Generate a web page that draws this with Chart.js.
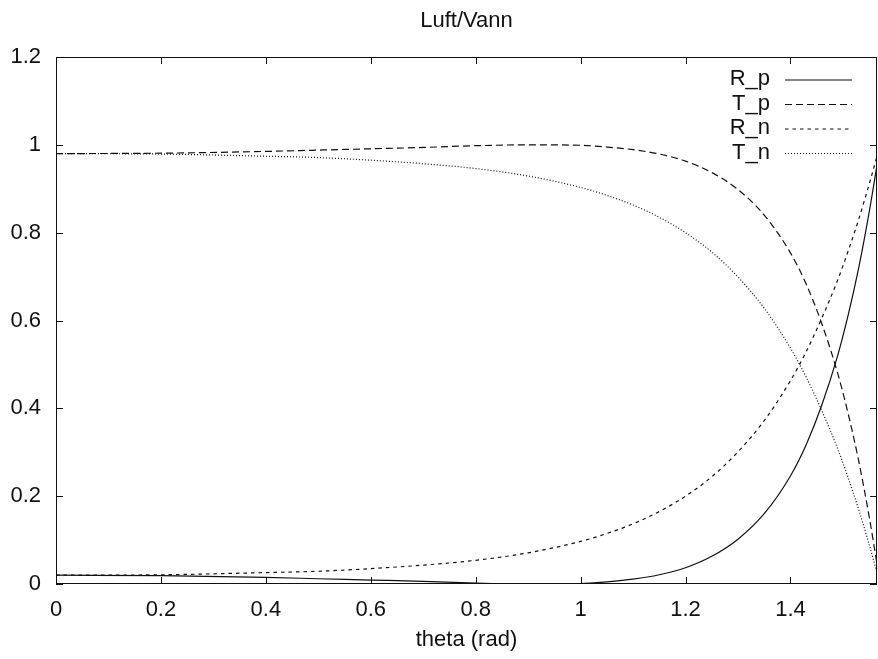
<!DOCTYPE html>
<html>
<head>
<meta charset="utf-8">
<script src="https://cdn.jsdelivr.net/npm/chart.js@4/dist/chart.umd.min.js"></script>
<style>
  html, body { margin: 0; padding: 0; background: #fff; }
  #wrap { width: 878px; height: 659px; }
</style>
</head>
<body>
<div id="wrap"><canvas id="grafico" width="878" height="659"></canvas></div>
<script>
const theta = [0, 0.2, 0.4, 0.5, 0.6, 0.7, 0.8, 0.9, 1.0, 1.05, 1.1, 1.15, 1.2, 1.25, 1.3, 1.35, 1.4, 1.43, 1.46, 1.49, 1.51, 1.53, 1.55, 1.565];
const R_p = [0.020, 0.019, 0.015, 0.012, 0.009, 0.006, 0.002, 0.000, 0.001, 0.005, 0.011, 0.021, 0.037, 0.063, 0.102, 0.160, 0.246, 0.317, 0.408, 0.520, 0.612, 0.719, 0.846, 0.954];
const T_p = [0.980, 0.981, 0.985, 0.988, 0.991, 0.994, 0.998, 1.000, 0.999, 0.995, 0.989, 0.979, 0.963, 0.937, 0.898, 0.840, 0.754, 0.683, 0.592, 0.480, 0.388, 0.281, 0.154, 0.046];
const R_n = [0.020, 0.021, 0.026, 0.029, 0.035, 0.043, 0.054, 0.071, 0.097, 0.115, 0.137, 0.165, 0.200, 0.244, 0.301, 0.372, 0.463, 0.529, 0.606, 0.692, 0.758, 0.830, 0.910, 0.974];
const T_n = [0.980, 0.979, 0.974, 0.971, 0.965, 0.957, 0.946, 0.929, 0.903, 0.885, 0.863, 0.835, 0.800, 0.756, 0.699, 0.628, 0.537, 0.471, 0.394, 0.308, 0.242, 0.170, 0.090, 0.026];

const xTicks = [0, 0.2, 0.4, 0.6, 0.8, 1, 1.2, 1.4];
const xTickLabels = ['0', '0.2', '0.4', '0.6', '0.8', '1', '1.2', '1.4'];
const yTicks = [0, 0.2, 0.4, 0.6, 0.8, 1, 1.2];
const yTickLabels = ['0', '0.2', '0.4', '0.6', '0.8', '1', '1.2'];

const FONT = 'Liberation Sans, Arial, sans-serif';
const INK = '#111';

function series(label, values, dash) {
    return {
        label: label,
        data: theta.map((t, i) => ({ x: t, y: values[i] })),
        borderColor: INK,
        borderWidth: 1.2,
        borderDash: dash,
        pointRadius: 0,
        fill: false,
        cubicInterpolationMode: 'monotone'
    };
}

// gnuplot style frame: box, inward ticks on all sides, legend top right, title
const frame = {
    id: 'frame',
    afterDatasetsDraw(chart) {
        const { ctx, chartArea: a, scales: { x, y } } = chart;
        ctx.save();
        ctx.strokeStyle = INK;
        ctx.lineWidth = 1;
        ctx.setLineDash([]);
        ctx.strokeRect(a.left + 0.5, a.top + 0.5, a.width - 1, a.height - 1);
        ctx.beginPath();
        x.ticks.forEach(t => {
            const px = Math.round(x.getPixelForValue(t.value)) + 0.5;
            ctx.moveTo(px, a.bottom); ctx.lineTo(px, a.bottom - 7);
            ctx.moveTo(px, a.top); ctx.lineTo(px, a.top + 7);
        });
        y.ticks.forEach(t => {
            const py = Math.round(y.getPixelForValue(t.value)) + 0.5;
            ctx.moveTo(a.left, py); ctx.lineTo(a.left + 7, py);
            ctx.moveTo(a.right, py); ctx.lineTo(a.right - 7, py);
        });
        ctx.stroke();

        ctx.font = '22px ' + FONT;
        ctx.fillStyle = INK;
        ctx.textBaseline = 'middle';
        chart.data.datasets.forEach((ds, i) => {
            const ly = 79 + i * 24.5;
            ctx.textAlign = 'right';
            ctx.fillText(ds.label, 770, ly);
            ctx.setLineDash(ds.borderDash || []);
            ctx.lineWidth = ds.borderWidth;
            ctx.beginPath();
            ctx.moveTo(785, ly + 1);
            ctx.lineTo(852, ly + 1);
            ctx.stroke();
        });

        ctx.textAlign = 'center';
        ctx.fillText('Luft/Vann', (a.left + a.right) / 2, 21);
        ctx.restore();
    }
};

new Chart(document.getElementById('grafico'), {
    type: 'line',
    data: {
        datasets: [
            series('R_p', R_p, []),
            series('T_p', T_p, [7, 4]),
            series('R_n', R_n, [3.5, 4]),
            series('T_n', T_n, [1, 2])
        ]
    },
    options: {
        responsive: false,
        animation: false,
        layout: { padding: { top: 57, right: 1, left: 0, bottom: 0 } },
        plugins: { legend: { display: false }, tooltip: { enabled: false }, title: { display: false } },
        scales: {
            x: {
                type: 'linear',
                min: 0,
                max: 1.565,
                afterBuildTicks: s => { s.ticks = xTicks.map(v => ({ value: v })); },
                afterFit: s => { s.height = 75; },
                grid: { display: false, drawTicks: false },
                border: { display: false },
                ticks: {
                    padding: 13,
                    color: INK,
                    font: { family: FONT, size: 22 },
                    maxRotation: 0,
                    callback: (v, i) => xTickLabels[i]
                },
                title: {
                    display: true,
                    text: 'theta (rad)',
                    color: INK,
                    font: { family: FONT, size: 22 },
                    padding: { top: 0, bottom: 6 }
                }
            },
            y: {
                min: 0,
                max: 1.2,
                afterBuildTicks: s => { s.ticks = yTicks.map(v => ({ value: v })); },
                afterFit: s => { s.width = 56; },
                grid: { display: false, drawTicks: false },
                border: { display: false },
                ticks: {
                    padding: 15,
                    color: INK,
                    font: { family: FONT, size: 22 },
                    callback: (v, i) => yTickLabels[i]
                }
            }
        }
    },
    plugins: [frame]
});
</script>
</body>
</html>
